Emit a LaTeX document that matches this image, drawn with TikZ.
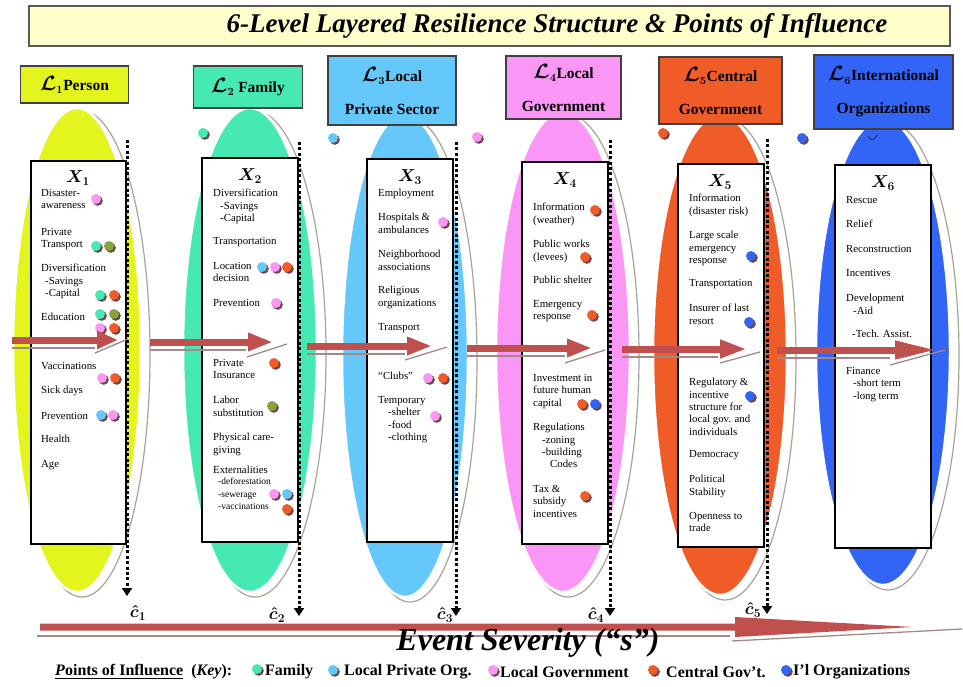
\documentclass[tikz,border=0pt]{standalone}
\usepackage{amsmath}
\usepackage{fontspec}
\setmainfont{Liberation Serif}
\usetikzlibrary{arrows.meta}

\definecolor{lvperson}{RGB}{228,245,30}
\definecolor{lvfamily}{RGB}{70,232,180}
\definecolor{lvprivate}{RGB}{100,200,250}
\definecolor{lvlocal}{RGB}{250,150,245}
\definecolor{lvcentral}{RGB}{240,92,40}
\definecolor{lvintl}{RGB}{50,100,245}
\definecolor{lvolive}{RGB}{140,160,60}
\definecolor{flowred}{RGB}{192,80,77}
\definecolor{flowgray}{RGB}{165,135,135}
\definecolor{rimgray}{RGB}{165,165,150}
\definecolor{dotshade}{RGB}{110,70,70}
\definecolor{titlefill}{RGB}{255,255,204}

\newcommand{\lev}[1]{{\fontsize{21}{21}\selectfont$\boldsymbol{\mathcal{L}_{\scriptscriptstyle #1}}$}}

\begin{document}
\begin{tikzpicture}[x=1pt, y=-1pt,
  level/.style={fill=#1, draw=white, line width=2.5pt},
  rim/.style={draw=rimgray, line width=1.2pt},
  head/.style={fill=#1, draw=black!75, line width=1.4pt, inner sep=0pt, align=center,
    font=\bfseries\fontsize{15.5}{33}\selectfont},
  xbox/.style={fill=white, draw=black, line width=1.3pt},
  xlab/.style={inner sep=0pt, font=\fontsize{18}{18}\selectfont},
  itm/.style={anchor=north west, align=left, inner sep=0pt, font=\fontsize{10.8}{12.4}\selectfont},
  subitm/.style={anchor=north west, align=left, inner sep=0pt, font=\fontsize{9.5}{12.5}\selectfont},
  infl/.style={fill=#1, preaction={fill=dotshade, transform canvas={shift={(1.8pt,-1.8pt)}}}},
  flow/.style={flowred, line width=7pt, -{Triangle[length=#1, width=17pt]}},
  flow/.default=25pt,
  flowshade/.style={draw=flowgray, line width=1.3pt},
  cutoff/.style={line width=3pt, dash pattern=on 3pt off 2.4pt, -{Triangle[length=8pt, width=10pt]}},
  chat/.style={inner sep=0pt, font=\fontsize{17}{17}\selectfont},
  keytxt/.style={anchor=west, inner sep=0pt, font=\bfseries\fontsize{16}{16}\selectfont}]
  \useasboundingbox (0,0) rectangle (963,686);

  % title
  \draw[fill=titlefill, draw=gray!70!black, line width=1.5pt] (29,6) rectangle (950,46);
  \node[font=\bfseries\itshape\fontsize{27}{27}\selectfont] (title) at (557,26)
    {6-Level Layered Resilience Structure \& Points of Influence};

  % the six levels, each with a thin rim set off to the lower right
  \draw[rim] (82,354)  ellipse [x radius=68, y radius=243];
  \draw[rim] (255,354) ellipse [x radius=71, y radius=243];
  \draw[rim] (410,360) ellipse [x radius=67, y radius=242];
  \draw[rim] (568,356) ellipse [x radius=71, y radius=241];
  \draw[rim] (725,359) ellipse [x radius=71, y radius=241];
  \draw[rim] (888,356) ellipse [x radius=71, y radius=234];
  \draw[level=lvperson]  (77,350)  ellipse [x radius=64, y radius=242];
  \draw[level=lvfamily]  (250,350) ellipse [x radius=67, y radius=242];
  \draw[level=lvprivate] (405,356) ellipse [x radius=63, y radius=241];
  \draw[level=lvlocal]   (563,352) ellipse [x radius=67, y radius=240];
  \draw[level=lvcentral] (720,355) ellipse [x radius=67, y radius=240];
  \draw[level=lvintl]    (883,352) ellipse [x radius=67, y radius=233];

  \node[head=lvperson,  minimum width=108pt, minimum height=37pt] (L1) at (74.5,84.5)
    {\lev{1}Person};
  \node[head=lvfamily,  minimum width=109pt, minimum height=42pt] (L2) at (248,87)
    {\lev{2} Family};
  \node[head=lvprivate, minimum width=128pt, minimum height=69pt] (L3) at (392,90.5)
    {\lev{3}Local\\Private Sector};
  \node[head=lvlocal,   minimum width=115pt, minimum height=63pt] (L4) at (563.5,87.5)
    {\lev{4}Local\\Government};
  \node[head=lvcentral, minimum width=123pt, minimum height=67pt] (L5) at (720.5,90.5)
    {\lev{5}Central\\Government};
  \node[head=lvintl,    minimum width=139pt, minimum height=74pt] (L6) at (883.5,92)
    {\lev{6}International\\Organizations};

  \fill[infl=lvfamily]  (203,133) circle [radius=5];
  \fill[infl=lvprivate] (333,138) circle [radius=5];
  \fill[infl=lvlocal]   (477,137) circle [radius=5];
  \fill[infl=lvcentral] (663,133) circle [radius=5];
  \fill[infl=lvintl]    (802,138) circle [radius=5];
  \draw[lvintl!60!black, line width=1.2pt] (868,136) .. controls (870,141) and (875,141) .. (877,135);

  %------ X1 person
  \draw[xbox] (31,161) rectangle (126,544);
  \node[xlab] (X1) at (78,178) {$\boldsymbol{X_1}$};
  \node[itm] (x1a) at (41,189) {Disaster-\\awareness};
  \node[itm] (x1b) at (41,228) {Private\\Transport};
  \node[itm] (x1c) at (41,264) {Diversification\\\hspace*{4pt}-Savings\\\hspace*{4pt}-Capital};
  \node[itm] (x1d) at (41,313) {Education};
  \node[itm] (x1e) at (41,362) {Vaccinations};
  \node[itm] (x1f) at (41,386) {Sick days};
  \node[itm] (x1g) at (41,412) {Prevention};
  \node[itm] (x1h) at (41,435) {Health};
  \node[itm] (x1i) at (41,460) {Age};
  \fill[infl=lvlocal]   (96,199)  circle [radius=5];
  \fill[infl=lvfamily]  (96,246)  circle [radius=5];
  \fill[infl=lvolive]   (109,246) circle [radius=5];
  \fill[infl=lvfamily]  (100,295) circle [radius=5];
  \fill[infl=lvcentral] (114,295) circle [radius=5];
  \fill[infl=lvfamily]  (100,314) circle [radius=5];
  \fill[infl=lvolive]   (114,314) circle [radius=5];
  \fill[infl=lvlocal]   (100,328) circle [radius=5];
  \fill[infl=lvcentral] (114,328) circle [radius=5];
  \fill[infl=lvlocal]   (102,378) circle [radius=5];
  \fill[infl=lvcentral] (115,378) circle [radius=5];
  \fill[infl=lvprivate] (101,415) circle [radius=5];
  \fill[infl=lvlocal]   (113,415) circle [radius=5];

  %------ X2 family
  \draw[xbox] (202,158) rectangle (298,542);
  \node[xlab] (X2) at (250,176) {$\boldsymbol{X_2}$};
  \node[itm] (x2a) at (213,189) {Diversification\\\hspace*{7pt}-Savings\\\hspace*{7pt}-Capital};
  \node[itm] (x2b) at (213,237) {Transportation};
  \node[itm] (x2c) at (213,262) {Location\\decision};
  \node[itm] (x2d) at (213,299) {Prevention};
  \node[itm] (x2e) at (213,359) {Private\\Insurance};
  \node[itm] (x2f) at (213,396) {Labor\\substitution};
  \node[itm] (x2g) at (213,433) {Physical care-\\giving};
  \node[itm] (x2h) at (213,466) {Externalities};
  \node[subitm] (x2i) at (218,478) {-deforestation\\-sewerage\\-vaccinations};
  \fill[infl=lvprivate] (262,267) circle [radius=5];
  \fill[infl=lvlocal]   (275,267) circle [radius=5];
  \fill[infl=lvcentral] (287,267) circle [radius=5];
  \fill[infl=lvlocal]   (276,303) circle [radius=5];
  \fill[infl=lvcentral] (274,363) circle [radius=5];
  \fill[infl=lvolive]   (272,406) circle [radius=5];
  \fill[infl=lvlocal]   (274,494) circle [radius=5];
  \fill[infl=lvprivate] (287,494) circle [radius=5];
  \fill[infl=lvcentral] (287,509) circle [radius=5];

  %------ X3 local private sector
  \draw[xbox] (367,159) rectangle (453,542);
  \node[xlab] (X3) at (410,177) {$\boldsymbol{X_3}$};
  \node[itm] (x3a) at (378,189) {Employment};
  \node[itm] (x3b) at (378,213) {Hospitals \&\\ambulances};
  \node[itm] (x3c) at (378,250) {Neighborhood\\associations};
  \node[itm] (x3d) at (378,286) {Religious\\organizations};
  \node[itm] (x3e) at (378,323) {Transport};
  \node[itm] (x3f) at (378,372) {“Clubs”};
  \node[itm] (x3g) at (378,396) {Temporary\\\hspace*{10pt}-shelter\\\hspace*{10pt}-food\\\hspace*{10pt}-clothing};
  \fill[infl=lvlocal]   (443,222) circle [radius=5];
  \fill[infl=lvlocal]   (428,378) circle [radius=5];
  \fill[infl=lvcentral] (443,378) circle [radius=5];
  \fill[infl=lvlocal]   (435,416) circle [radius=5];

  %------ X4 local government
  \draw[xbox] (522,162) rectangle (608,544);
  \node[xlab] (X4) at (565,180) {$\boldsymbol{X_4}$};
  \node[itm] (x4a) at (533,203) {Information\\(weather)};
  \node[itm] (x4b) at (533,240) {Public works\\(levees)};
  \node[itm] (x4c) at (533,276) {Public shelter};
  \node[itm] (x4d) at (533,300) {Emergency\\response};
  \node[itm] (x4e) at (533,374) {Investment in\\future human\\capital};
  \node[itm] (x4f) at (533,423) {Regulations\\\hspace*{9pt}-zoning\\\hspace*{9pt}-building\\\hspace*{17pt}Codes};
  \node[itm] (x4g) at (533,485) {Tax \&\\subsidy\\incentives};
  \fill[infl=lvcentral] (595,210) circle [radius=5];
  \fill[infl=lvcentral] (585,257) circle [radius=5];
  \fill[infl=lvcentral] (592,315) circle [radius=5];
  \fill[infl=lvcentral] (582,404) circle [radius=5];
  \fill[infl=lvintl]    (595,404) circle [radius=5];
  \fill[infl=lvcentral] (585,496) circle [radius=5];

  %------ X5 central government
  \draw[xbox] (678,164) rectangle (764,547);
  \node[xlab] (X5) at (720,182) {$\boldsymbol{X_5}$};
  \node[itm] (x5a) at (689,194) {Information\\(disaster risk)};
  \node[itm] (x5b) at (689,231) {Large scale\\emergency\\response};
  \node[itm] (x5c) at (689,279) {Transportation};
  \node[itm] (x5d) at (689,304) {Insurer of last\\resort};
  \node[itm] (x5e) at (689,378) {Regulatory \&\\incentive\\structure for\\local gov. and\\individuals};
  \node[itm] (x5f) at (689,450) {Democracy};
  \node[itm] (x5g) at (689,475) {Political\\Stability};
  \node[itm] (x5h) at (689,512) {Openness to\\trade};
  \fill[infl=lvintl] (751,256) circle [radius=5];
  \fill[infl=lvintl] (749,322) circle [radius=5];
  \fill[infl=lvintl] (750,396) circle [radius=5];

  %------ X6 international organizations
  \draw[xbox] (835,165) rectangle (931,548);
  \node[xlab] (X6) at (883,183) {$\boldsymbol{X_6}$};
  \node[itm] (x6a) at (846,196) {Rescue};
  \node[itm] (x6b) at (846,220) {Relief};
  \node[itm] (x6c) at (846,245) {Reconstruction};
  \node[itm] (x6d) at (846,269) {Incentives};
  \node[itm] (x6e) at (846,294) {Development\\\hspace*{7pt}-Aid};
  \node[itm] (x6f) at (852,330) {-Tech. Assist.};
  \node[itm] (x6g) at (846,367) {Finance\\\hspace*{7pt}-short term\\\hspace*{7pt}-long term};

  %------ flow between levels
  \coordinate (f1s) at (12,340);  \coordinate (f1e) at (118,340);
  \coordinate (f2s) at (150,342); \coordinate (f2e) at (273,342);
  \coordinate (f3s) at (307,346); \coordinate (f3e) at (432,346);
  \coordinate (f4s) at (467,348); \coordinate (f4e) at (592,348);
  \coordinate (f5s) at (622,349); \coordinate (f5e) at (747,349);
  \coordinate (f6s) at (777,350); \coordinate (f6e) at (937,350);
  \draw[flowshade] (12,348) -- (95,348);   \draw[flowshade] (95,353) -- (128,339);
  \draw[flowshade] (150,350) -- (246,350); \draw[flowshade] (247,357) -- (287,344);
  \draw[flowshade] (307,354) -- (405,354); \draw[flowshade] (405,360) -- (447,347);
  \draw[flowshade] (467,356) -- (565,356); \draw[flowshade] (565,363) -- (605,350);
  \draw[flowshade] (622,357) -- (718,357); \draw[flowshade] (720,363) -- (760,352);
  \draw[flowshade] (777,358) -- (890,358); \draw[flowshade] (890,365) -- (945,350);
  \draw[flow=21pt] (f1s) -- (f1e);
  \draw[flow] (f2s) -- (f2e);
  \draw[flow] (f3s) -- (f3e);
  \draw[flow] (f4s) -- (f4e);
  \draw[flow=27pt] (f5s) -- (f5e);
  \draw[flow=42pt] (f6s) -- (f6e);

  %------ cut-off severities
  \coordinate (d1a) at (127,140); \coordinate (d1b) at (127,596);
  \coordinate (d2a) at (299,142); \coordinate (d2b) at (299,616);
  \coordinate (d3a) at (456,142); \coordinate (d3b) at (456,616);
  \coordinate (d4a) at (610,140); \coordinate (d4b) at (610,616);
  \coordinate (d5a) at (767,139); \coordinate (d5b) at (767,614);
  \draw[cutoff] (d1a) -- (d1b);
  \draw[cutoff] (d2a) -- (d2b);
  \draw[cutoff] (d3a) -- (d3b);
  \draw[cutoff] (d4a) -- (d4b);
  \draw[cutoff] (d5a) -- (d5b);
  \node[chat] (c1) at (138,613) {$\boldsymbol{\hat{c}_1}$};
  \node[chat] (c2) at (277,615) {$\boldsymbol{\hat{c}_2}$};
  \node[chat] (c3) at (445,615) {$\boldsymbol{\hat{c}_3}$};
  \node[chat] (c4) at (596,615) {$\boldsymbol{\hat{c}_4}$};
  \node[chat] (c5) at (753,610) {$\boldsymbol{\hat{c}_5}$};

  %------ event severity
  \draw[flowshade] (37,636) -- (730,636);
  \draw[flowshade] (732,641) -- (962,629);
  \fill[flowred] (40,623.5) -- (735,623.5) -- (735,617) -- (913,627)
    -- (735,637) -- (735,630.5) -- (40,630.5) -- cycle;
  \node[font=\bfseries\itshape\fontsize{32}{32}\selectfont] (sev) at (528,643) {Event Severity (“s”)};

  %------ key
  \node[keytxt] (key) at (55,672) {\underline{\textit{P}oints of Influence}\ \ (\textit{Key}):};
  \fill[infl=lvfamily]  (257,669) circle [radius=5];
  \node[keytxt] (kfam) at (265,672) {Family};
  \fill[infl=lvprivate] (333,670) circle [radius=5];
  \node[keytxt] (kpriv) at (344,672) {Local Private Org.};
  \fill[infl=lvlocal]   (493,670) circle [radius=5];
  \node[keytxt] (kloc) at (500,672) {Local Government};
  \fill[infl=lvcentral] (653,670) circle [radius=5];
  \node[keytxt] (kcen) at (666,672) {Central Gov’t.};
  \fill[infl=lvintl]    (786,670) circle [radius=5];
  \node[keytxt] (kint) at (793,672) {I’l Organizations};
\end{tikzpicture}
\end{document}
